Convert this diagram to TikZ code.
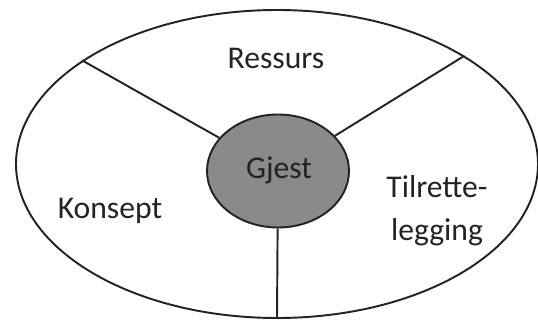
\documentclass[tikz,border=0pt]{standalone}
\usepackage{fontspec}
\setmainfont{Carlito}
\usepackage{xcolor}
\usepackage{tikz}
\usetikzlibrary{shapes.geometric}
\definecolor{guestgray}{RGB}{138,138,138}
\definecolor{inkdark}{RGB}{35,35,35}
\tikzset{
  frame-ellipse/.style={ellipse, draw=inkdark, line width=1.1pt, inner sep=0pt,
    minimum width=10.44cm, minimum height=6.16cm},
  guest-ellipse/.style={ellipse, draw=inkdark, line width=1.1pt, fill=guestgray,
    inner sep=0pt, minimum width=2.84cm, minimum height=2.26cm},
  divider-line/.style={draw=inkdark, line width=1.1pt},
  area-label/.style={font=\fontsize{18}{24.4}\selectfont, text=inkdark, align=center}
}
\begin{document}
\begin{tikzpicture}
\useasboundingbox (0,0) rectangle (10.76,6.46);
% Outer ellipse and centre
\node[frame-ellipse] (ramme) at (5.54,3.18) {};
\node[guest-ellipse] (gjest) at (5.56,3.04) {};

% Dividers
\draw[divider-line] (gjest) -- (ramme.152.1);
\draw[divider-line] (gjest) -- (ramme.30.3);
\draw[divider-line] (gjest) -- (ramme.south);

% Labels
\node[area-label] (gjesttekst) at (5.58,3.06) {Gjest};
\node[area-label] (ressurs) at (5.52,5.30) {Ressurs};
\node[area-label] (konsept) at (2.20,2.24) {Konsept};
\node[area-label] (tilrette) at (8.74,2.25) {Tilrette-\\legging};
\end{tikzpicture}
\end{document}
